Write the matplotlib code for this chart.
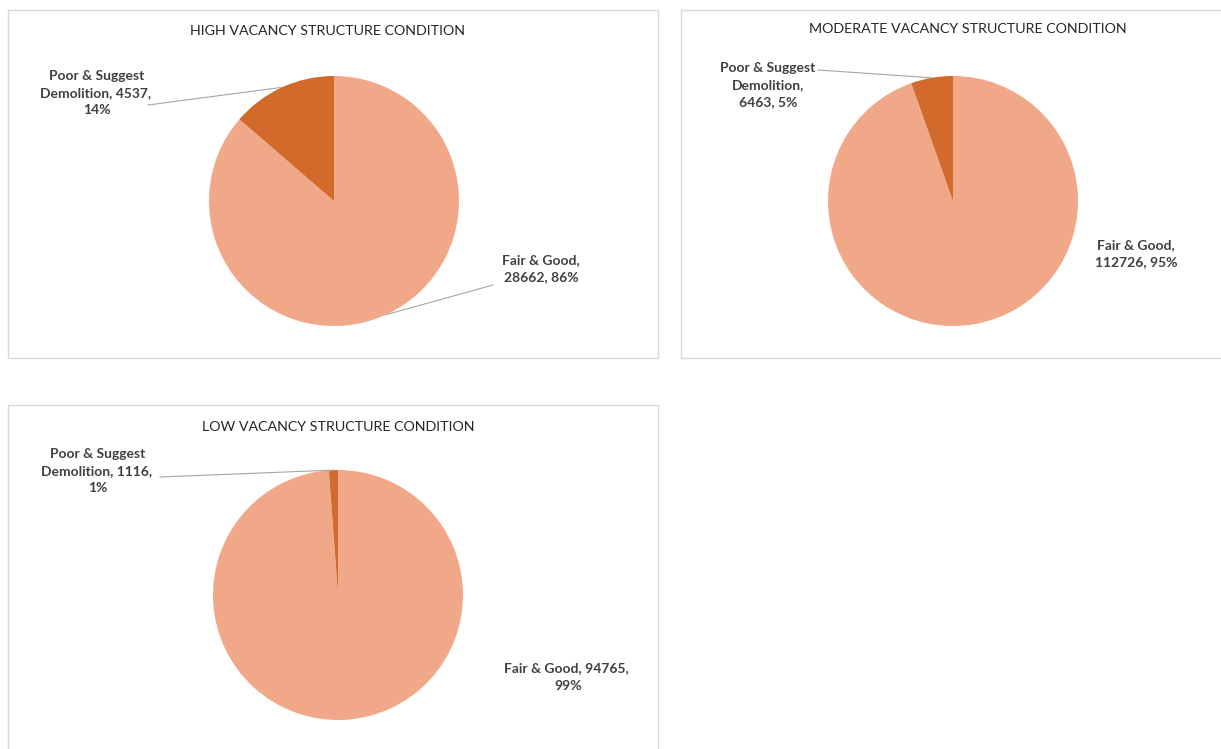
import numpy as np
import matplotlib.pyplot as plt
from matplotlib.patches import Rectangle

plt.rcParams['font.family'] = ['Lato', 'DejaVu Sans']

# data
titles = ["HIGH VACANCY STRUCTURE CONDITION",
          "MODERATE VACANCY STRUCTURE CONDITION",
          "LOW VACANCY STRUCTURE CONDITION"]
categories = ["Fair & Good", "Poor & Suggest Demolition"]
fair_good = [28662, 112726, 94765]
poor_demo = [4537, 6463, 1116]
fair_pct = ["86%", "95%", "99%"]
poor_pct = ["14%", "5%", "1%"]

colors = ["#F0A889", "#D26A2C"]

W, H = 1221, 749
fig = plt.figure(figsize=(W / 100, H / 100), dpi=100)
ax = fig.add_axes([0, 0, 1, 1])
ax.set_xlim(0, W)
ax.set_ylim(0, H)
ax.axis('off')

# layout in pixel coords (y from top)
boxes = [(8, 10, 650, 348), (681, 10, 545, 348), (8, 405, 650, 350)]
centers = [(334, 201), (953, 201), (338, 595)]
radius = 125
title_pos = [(327, 31), (968, 29), (338, 427)]
poor_text = ["Poor & Suggest\nDemolition, {}, \n{}",
             "Poor & Suggest\nDemolition,\n{}, {}",
             "Poor & Suggest\nDemolition, {}, \n{}"]
poor_pos = [(97, 93), (768, 85), (98, 471)]
poor_anchor = [(148, 105), (818, 70), (160, 477)]
fair_text = ["Fair & Good,\n{}, {}", "Fair & Good,\n{}, {}", "Fair & Good, {}, \n{}"]
fair_pos = [(541, 269), (1136, 254), (568, 677)]
fair_anchor = [(493, 285), None, None]

for i in range(3):
    bx, by, bw, bh = boxes[i]
    ax.add_patch(Rectangle((bx, H - by - bh), bw, bh, fill=False,
                           edgecolor='#D9D9D9', linewidth=1))
    cx, cy = centers[i]
    vals = [fair_good[i], poor_demo[i]]
    wedges, _ = ax.pie(vals, colors=colors, startangle=90, counterclock=False,
                       center=(cx, H - cy), radius=radius, frame=True,
                       wedgeprops=dict(linewidth=0))
    tx, ty = title_pos[i]
    ax.text(tx, H - ty, titles[i], ha='center', va='center', fontsize=10.3,
            color='#262626')

    # data labels
    px, py = poor_pos[i]
    ax.text(px, H - py, poor_text[i].format(poor_demo[i], poor_pct[i]),
            ha='center', va='center', fontsize=10, fontweight='bold',
            color='#404040', linespacing=1.5)
    fx, fy = fair_pos[i]
    ax.text(fx, H - fy, fair_text[i].format(fair_good[i], fair_pct[i]),
            ha='center', va='center', fontsize=10, fontweight='bold',
            color='#404040', linespacing=1.5)

    # leader lines to wedge middle
    for w, anc in zip(wedges, [fair_anchor[i], poor_anchor[i]]):
        if anc is None:
            continue
        mid = np.deg2rad((w.theta1 + w.theta2) / 2)
        ex = cx + radius * np.cos(mid)
        ey = (H - cy) + radius * np.sin(mid)
        ax.plot([anc[0], ex], [H - anc[1], ey], color='#A6A6A6', linewidth=0.8)

ax.set_xlim(0, W)
ax.set_ylim(0, H)
ax.set_aspect('equal')

fig.savefig("out.png", dpi=100, facecolor='white')
